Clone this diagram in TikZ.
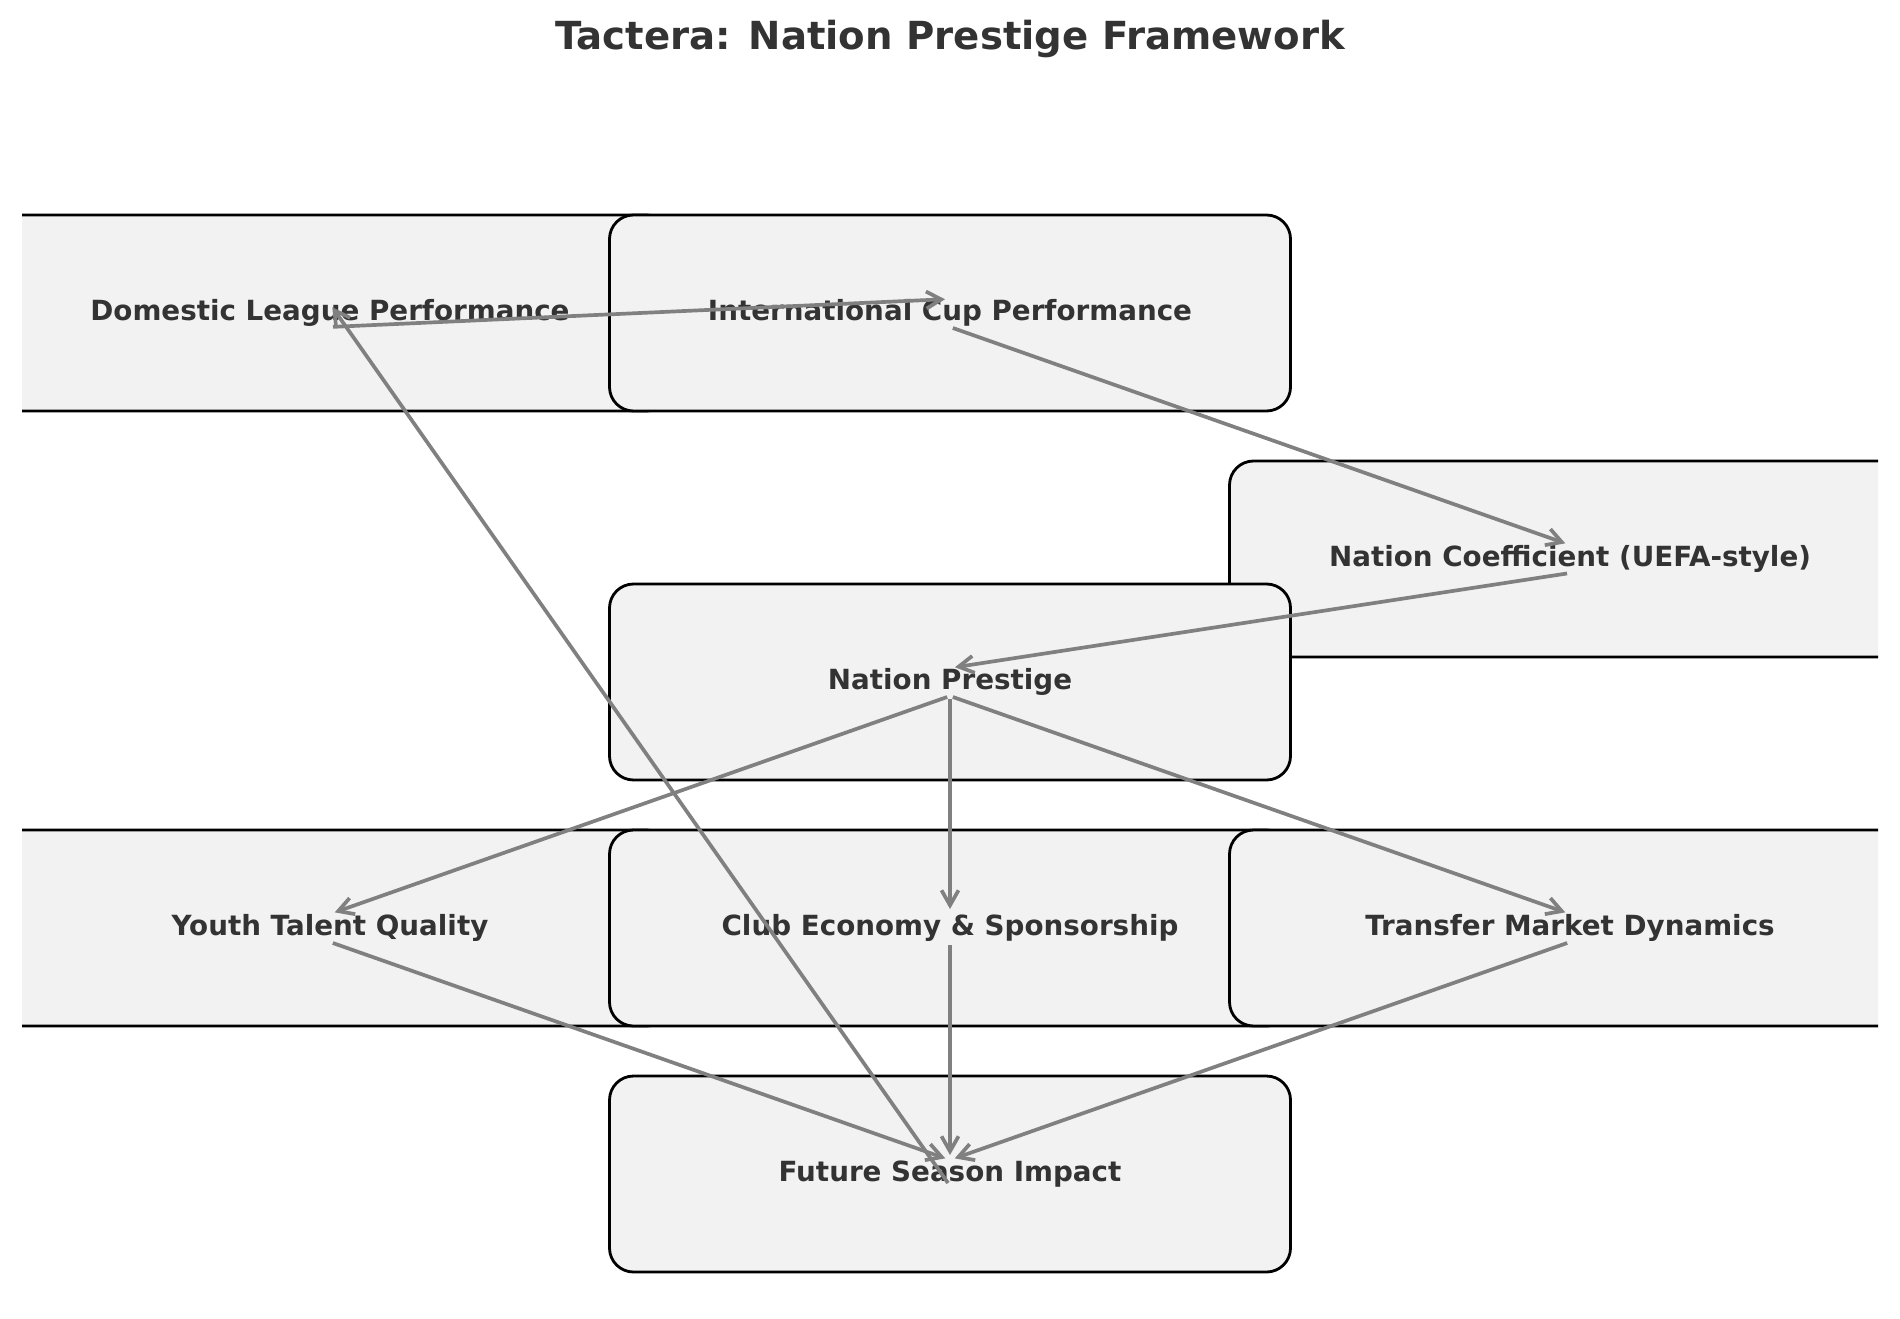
\documentclass[tikz,border=0pt]{standalone}
\usepackage{fontspec}
\setmainfont{DejaVu Sans}
\usetikzlibrary{arrows.meta}

\definecolor{boxFill}{HTML}{F2F2F2}
\definecolor{textGray}{HTML}{333333}
\definecolor{arrowGray}{HTML}{808080}

\def \boxWidth {6.81cm}
\def \boxHeight {1.96cm}
\def \lineShift {0.14cm}

\tikzset{
   factor/.style={draw=black, line width=0.8pt, fill=boxFill, rounded corners=0.24cm,
      minimum width=\boxWidth, minimum height=\boxHeight, inner sep=0pt,
      text=textGray, font=\fontsize{7.9}{9}\selectfont\bfseries},
   flow/.style={draw=arrowGray, line width=1.05pt, -{Straight Barb[length=1.5mm,width=1.7mm]},
      shorten <=0.03cm, shorten >=0.05cm}
}

\begin{document}
\begin{tikzpicture}
         \useasboundingbox (0,0) rectangle (19,13.18);
         \node[anchor=base, text=textGray, font=\fontsize{11}{13}\selectfont\bfseries] (title) at (9.5,12.68) {Tactera: Nation Prestige Framework};
         \begin{scope}
            \clip (0.22,0) rectangle (18.78,13.18);
            \node[factor] (dom) at (3.30,10.05) {Domestic League Performance};
            \node[factor] (intl) at (9.50,10.05) {International Cup Performance};
            \node[factor] (coef) at (15.70,7.59) {Nation Coefficient (UEFA-style)};
            \node[factor] (prest) at (9.50,6.36) {Nation Prestige};
            \node[factor] (youth) at (3.30,3.90) {Youth Talent Quality};
            \node[factor] (club) at (9.50,3.90) {Club Economy \& Sponsorship};
            \node[factor] (trans) at (15.70,3.90) {Transfer Market Dynamics};
            \node[factor] (fut) at (9.50,1.44) {Future Season Impact};
         \end{scope}
         \draw[flow] ([yshift=-\lineShift]dom.center) -- ([yshift=\lineShift]intl.center);
         \draw[flow] ([yshift=-\lineShift]intl.center) -- ([yshift=\lineShift]coef.center);
         \draw[flow] ([yshift=-\lineShift]coef.center) -- ([yshift=\lineShift]prest.center);
         \draw[flow] ([yshift=-\lineShift]prest.center) -- ([yshift=\lineShift]youth.center);
         \draw[flow] ([yshift=-\lineShift]prest.center) -- ([yshift=\lineShift]club.center);
         \draw[flow] ([yshift=-\lineShift]prest.center) -- ([yshift=\lineShift]trans.center);
         \draw[flow] ([yshift=-\lineShift]youth.center) -- ([yshift=\lineShift]fut.center);
         \draw[flow] ([yshift=-\lineShift]club.center) -- ([yshift=\lineShift]fut.center);
         \draw[flow] ([yshift=-\lineShift]trans.center) -- ([yshift=\lineShift]fut.center);
         \draw[flow, shorten <=0pt, shorten >=0.04cm] ([shift={(-0.02,-0.09)}]fut.center) -- ([yshift=0.09cm]dom.center);
      \end{tikzpicture}
\end{document}
